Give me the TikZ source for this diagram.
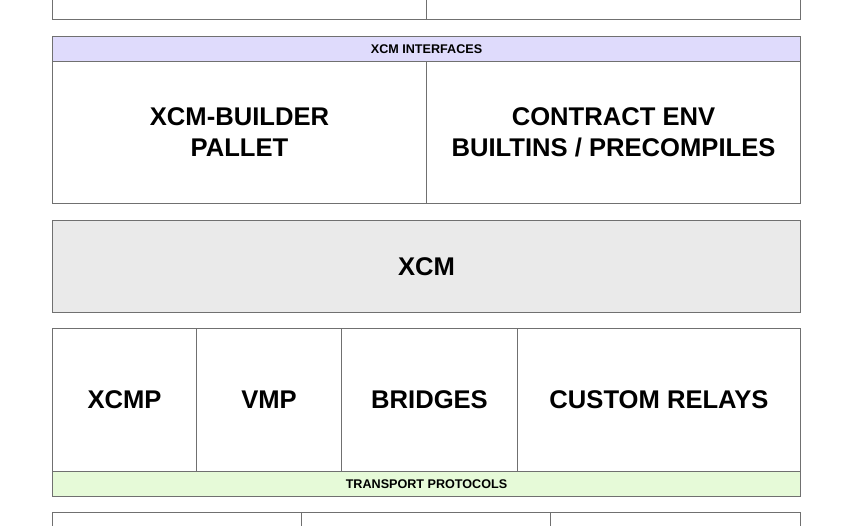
\documentclass[tikz,border=0pt]{standalone}
\usepackage{fontspec}
\setmainfont{Liberation Sans}
\definecolor{edge}{HTML}{707070}
\definecolor{hdrpurple}{HTML}{DFDBFC}
\definecolor{hdrgreen}{HTML}{E6FAD8}
\definecolor{xcmgray}{HTML}{EAEAEA}
\tikzset{
  cell/.style={draw=edge, line width=1pt, rectangle, inner sep=0pt, anchor=north west, align=center,
    font=\fontsize{25.6}{31}\selectfont\bfseries, text=black},
  band/.style={cell, minimum height=25pt, font=\fontsize{12.6}{15}\selectfont\bfseries}
}
\begin{document}
\begin{tikzpicture}[x=1pt,y=-1pt]
\useasboundingbox (0,0) rectangle (850,525);
\clip (0,0) rectangle (850,525);
% top row (cut off)
\node[cell, minimum width=374pt, minimum height=39pt] (topL) at (52,-20) {};
\node[cell, minimum width=374pt, minimum height=39pt] (topR) at (426,-20) {};
% XCM interfaces
\node[band, fill=hdrpurple, minimum width=748pt] (ifc) at (52,36) {XCM INTERFACES};
\node[cell, minimum width=374pt, minimum height=142pt] (builder) at (52,61) {XCM-BUILDER\\PALLET};
\node[cell, minimum width=374pt, minimum height=142pt] (contract) at (426,61) {CONTRACT ENV\\BUILTINS / PRECOMPILES};
% XCM
\node[cell, fill=xcmgray, minimum width=748pt, minimum height=92pt] (xcm) at (52,220) {XCM};
% transport protocols
\node[cell, minimum width=144pt, minimum height=143pt] (xcmp) at (52,328) {XCMP};
\node[cell, minimum width=145pt, minimum height=143pt] (vmp) at (196,328) {VMP};
\node[cell, minimum width=176pt, minimum height=143pt] (bridges) at (341,328) {BRIDGES};
\node[cell, minimum width=283pt, minimum height=143pt] (relays) at (517,328) {CUSTOM RELAYS};
\node[band, fill=hdrgreen, minimum width=748pt] (transport) at (52,471) {TRANSPORT PROTOCOLS};
% bottom row (cut off)
\node[cell, minimum width=249pt, minimum height=60pt] (botA) at (52,512) {};
\node[cell, minimum width=249pt, minimum height=60pt] (botB) at (301,512) {};
\node[cell, minimum width=250pt, minimum height=60pt] (botC) at (550,512) {};
\end{tikzpicture}
\end{document}
